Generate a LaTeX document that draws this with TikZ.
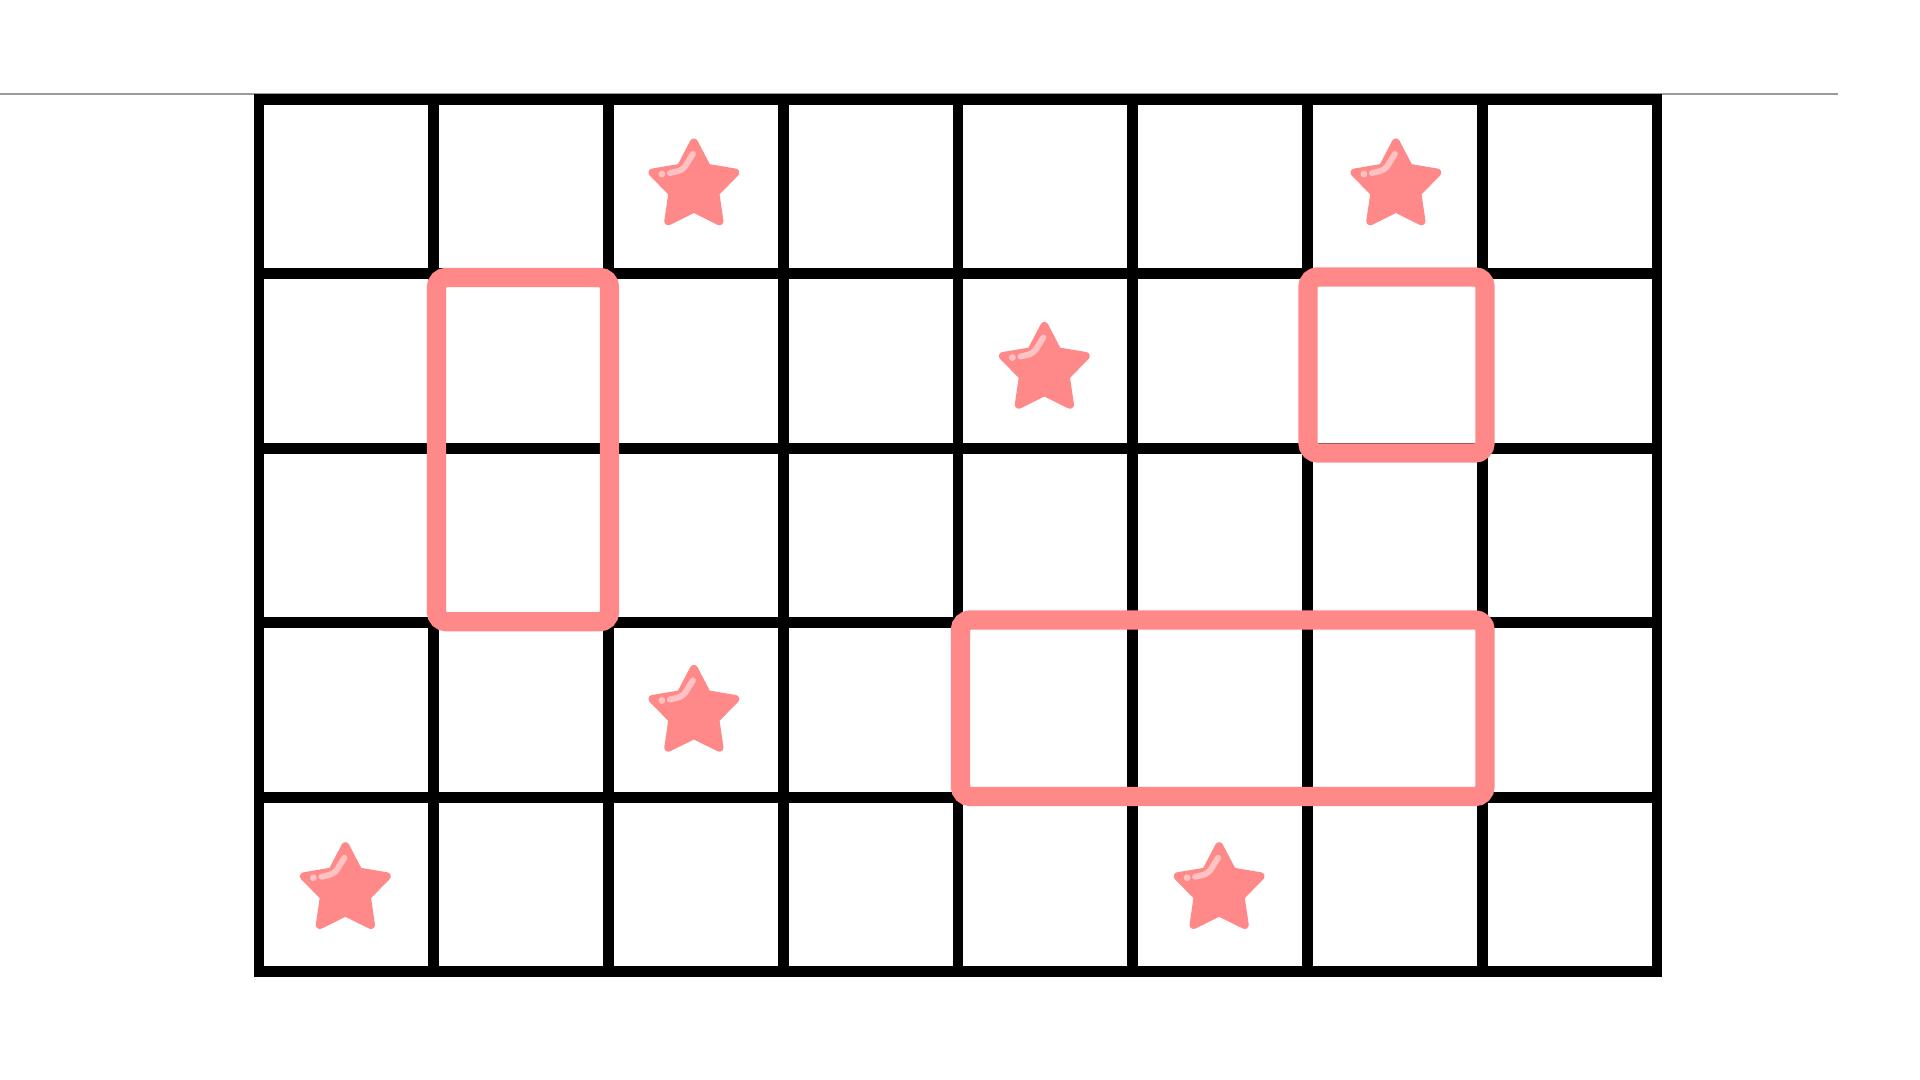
\documentclass[tikz,border=0pt]{standalone}
\usetikzlibrary{calc}
\definecolor{starpink}{HTML}{FF8888}
\definecolor{hilite}{HTML}{FFC2C2}
\definecolor{rulegray}{HTML}{9A9A9A}
\tikzset{
  gridline/.style={draw=black, line width=3.1pt},
  selbox/.style={draw=starpink, line width=5.5pt, rounded corners=2.8pt},
  mystar/.pic={
    \filldraw[starpink, line width=2.3pt, line join=round]
      (270:43.5) -- (306:22.5) -- (342:43.5) -- (18:22.5) -- (54:43.5) -- (90:22.5)
      -- (126:43.5) -- (162:22.5) -- (198:43.5) -- (234:22.5) -- cycle;
    \fill[hilite] (-32,-12) circle (3.4);
    \draw[hilite, line width=1.7pt, line cap=round, rounded corners=1.5pt]
      (-24,-13) -- (-11,-16) -- (-1,-32);
  }
}
\begin{document}
\begin{tikzpicture}[x=0.01cm, y=-0.01cm]
\useasboundingbox (0,0) rectangle (1920,1080);
% thin rule
\draw[rulegray, line width=0.45pt] (0,94.3) -- (1838,94.3);
% grid
\foreach \i in {1,...,7} {
  \draw[gridline] ({259+174.75*\i},99.3) -- ({259+174.75*\i},971.7);
}
\foreach \j in {1,...,4} {
  \draw[gridline] (259,{99.3+174.48*\j}) -- (1657,{99.3+174.48*\j});
}
\draw[gridline] (259,99.3) rectangle (1657,971.7);
% highlighted boxes
\draw[selbox] (436.5,277.5) rectangle (609.5,621.7);
\draw[selbox] (1308,277) rectangle (1485,453);
\draw[selbox] (960.5,620) rectangle (1485,796.5);
% stars (column/row/dx/dy)
\foreach \c/\r/\dx/\dy in {2/0/-2/-0.5, 6/0/1/-0.5, 4/1/-1/8.5, 2/3/-2/2.5, 0/4/-1/5.3, 5/4/-1/5.3} {
  \pic at ({259+174.75*(\c+0.5)+\dx},{99.3+174.48*(\r+0.5)+\dy}) {mystar};
}
\end{tikzpicture}
\end{document}
